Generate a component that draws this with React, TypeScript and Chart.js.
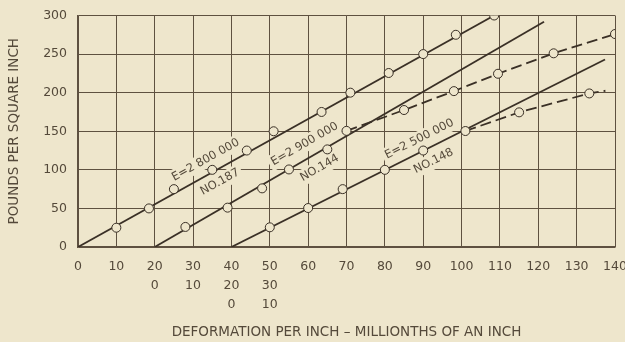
import { useEffect, useRef } from "react";
import { Chart, registerables } from "chart.js";

Chart.register(...registerables);

const BG = "#eee6cc";
const INK = "#3a3026";
const GRID = "#5e5140";
const TEXT = "#54493a";
const FONT = "'DejaVu Sans', sans-serif";
const WEIGHT = "normal";

// tick labels
const xTicks = [0, 10, 20, 30, 40, 50, 60, 70, 80, 90, 100, 110, 120, 130, 140];
const xTickRow2 = ["", "", "0", "10", "20", "30", "", "", "", "", "", "", "", "", ""];
const xTickRow3 = ["", "", "", "", "0", "10", "", "", "", "", "", "", "", "", ""];
const yTicks = [0, 50, 100, 150, 200, 250, 300];

// specimen No.187
const no187X = [10, 18.5, 25, 35, 44, 51, 63.5, 71, 81, 90, 98.5, 108.5];
const no187Y = [25, 50, 75, 100, 125, 150, 175, 200, 225.5, 250, 275, 300];
const fit187X = [0, 108.5];
const fit187Y = [0, 300];

// specimen No.144
const no144X = [28, 39, 48, 55, 65, 70, 85, 98, 109.5, 124, 140];
const no144Y = [26, 51, 76, 100.5, 126.5, 150.5, 177.5, 202, 224.5, 251, 276];
const fit144X = [20, 121.5];
const fit144Y = [0, 292];
const dash144X = [70, 85, 98, 109.5, 124, 140];
const dash144Y = [150.5, 177.5, 202, 224.5, 251, 276];

// specimen No.148
const no148X = [50, 60, 69, 80, 90, 101, 115, 133.3];
const no148Y = [25.5, 50.5, 75, 100, 125, 150.3, 174.5, 199];
const fit148X = [40, 137.4];
const fit148Y = [0, 243];
const dash148X = [101, 115, 133.3, 137.5];
const dash148Y = [150.3, 174.5, 199, 202.5];

// annotation labels (text, anchor x, anchor y, fit line index)
const labelTexts = ["E=2 800 000", "NO.187", "E=2 900 000", "NO.144", "E=2 500 000", "NO.148"];
const labelX = [33.3, 37, 59.1, 63, 89, 92.7];
const labelY = [112.7, 84.2, 133.4, 102.3, 139.9, 111.4];
const labelLine = [0, 0, 1, 1, 2, 2];

const fits = [
  [fit187X, fit187Y],
  [fit144X, fit144Y],
  [fit148X, fit148Y],
];

const pts = (xs: number[], ys: number[]) => xs.map((x, i) => ({ x, y: ys[i] }));

const bgPlugin = {
  id: "bg",
  beforeDraw(chart: any) {
    const { ctx, width, height } = chart;
    ctx.save();
    ctx.fillStyle = BG;
    ctx.fillRect(0, 0, width, height);
    ctx.restore();
  },
};

const labelPlugin = {
  id: "lineLabels",
  beforeDatasetsDraw(chart: any) {
    const { ctx, scales } = chart;
    const xs = scales.x;
    const ys = scales.y;
    ctx.save();
    ctx.font = `${WEIGHT} 11.5px ${FONT}`;
    ctx.textAlign = "center";
    ctx.textBaseline = "middle";
    labelTexts.forEach((t, i) => {
      const [fx, fy] = fits[labelLine[i]];
      const dx = xs.getPixelForValue(fx[1]) - xs.getPixelForValue(fx[0]);
      const dy = ys.getPixelForValue(fy[1]) - ys.getPixelForValue(fy[0]);
      const ang = Math.atan2(dy, dx);
      const px = xs.getPixelForValue(labelX[i]);
      const py = ys.getPixelForValue(labelY[i]);
      ctx.save();
      ctx.translate(px, py);
      ctx.rotate(ang);
      const w = ctx.measureText(t).width;
      ctx.fillStyle = BG;
      ctx.fillRect(-w / 2 - 3, -8, w + 6, 16);
      ctx.fillStyle = TEXT;
      ctx.fillText(t, 0, 0);
      ctx.restore();
    });
    ctx.restore();
  },
};

export default function App() {
  const ref = useRef<HTMLCanvasElement | null>(null);

  useEffect(() => {
    document.body.style.margin = "0";
    document.body.style.background = BG;
    if (!ref.current) return;

    const lineDs = (xs: number[], ys: number[], dash: number[] = []) => ({
      data: pts(xs, ys),
      showLine: true,
      borderColor: INK,
      borderWidth: 1.8,
      borderDash: dash,
      pointRadius: 0,
      fill: false,
      order: 1,
    });
    const pointDs = (xs: number[], ys: number[]) => ({
      data: pts(xs, ys),
      showLine: false,
      pointRadius: 4.5,
      pointBorderWidth: 1,
      pointBackgroundColor: BG,
      pointBorderColor: INK,
      order: 0,
    });

    const tickFont = { family: FONT, size: 12.5, weight: WEIGHT };
    const titleFont = { family: FONT, size: 13.5, weight: WEIGHT, lineHeight: 1.2 };

    const chart = new Chart(ref.current, {
      type: "scatter",
      data: {
        datasets: [
          pointDs(no187X, no187Y),
          pointDs(no144X, no144Y),
          pointDs(no148X, no148Y),
          lineDs(fit187X, fit187Y),
          lineDs(fit144X, fit144Y),
          lineDs(fit148X, fit148Y),
          lineDs(dash144X, dash144Y, [11, 5]),
          lineDs(dash148X, dash148Y, [11, 5]),
        ] as any,
      },
      options: {
        animation: false,
        responsive: false,
        layout: { padding: { left: 0, right: 10, top: 15.5, bottom: 0 } },
        plugins: { legend: { display: false }, tooltip: { enabled: false } },
        scales: {
          x: {
            type: "linear",
            min: 0,
            max: 140,
            afterBuildTicks: (s: any) => {
              s.ticks = xTicks.map((v) => ({ value: v }));
            },
            afterFit: (s: any) => {
              s.height = 95;
              s.paddingLeft = 0;
              s.paddingRight = 0;
            },
            grid: { color: GRID, lineWidth: 1, drawTicks: false },
            border: { color: GRID, width: 1.5 },
            ticks: {
              padding: 10,
              color: TEXT,
              autoSkip: false,
              maxRotation: 0,
              font: { ...tickFont, lineHeight: "19px" } as any,
              callback: (value: any) => {
                const i = xTicks.indexOf(Number(value));
                const lines = [String(value)];
                if (i >= 0 && xTickRow2[i]) lines.push(xTickRow2[i]);
                if (i >= 0 && xTickRow3[i]) lines.push(xTickRow3[i]);
                return lines.length === 1 ? lines[0] : lines;
              },
            },
            title: {
              display: true,
              text: "DEFORMATION PER INCH – MILLIONTHS OF AN INCH",
              color: TEXT,
              font: titleFont as any,
              padding: { top: 0, bottom: 1 },
            },
          },
          y: {
            type: "linear",
            min: 0,
            max: 300,
            afterBuildTicks: (s: any) => {
              s.ticks = yTicks.map((v) => ({ value: v }));
            },
            afterFit: (s: any) => {
              s.width = 78;
              s.paddingTop = 0;
              s.paddingBottom = 0;
            },
            grid: { color: GRID, lineWidth: 1, drawTicks: false },
            border: { color: GRID, width: 1.5 },
            ticks: {
              padding: 11,
              color: TEXT,
              font: tickFont as any,
            },
            title: {
              display: true,
              text: "POUNDS PER SQUARE INCH",
              color: TEXT,
              font: titleFont as any,
              padding: { top: 6, bottom: 0 },
            },
          },
        },
      },
      plugins: [bgPlugin, labelPlugin],
    });
    return () => chart.destroy();
  }, []);

  return (
    <div style={{ width: 625, height: 342, background: BG }}>
      <canvas ref={ref} width={625} height={342} style={{ display: "block" }} />
    </div>
  );
}
